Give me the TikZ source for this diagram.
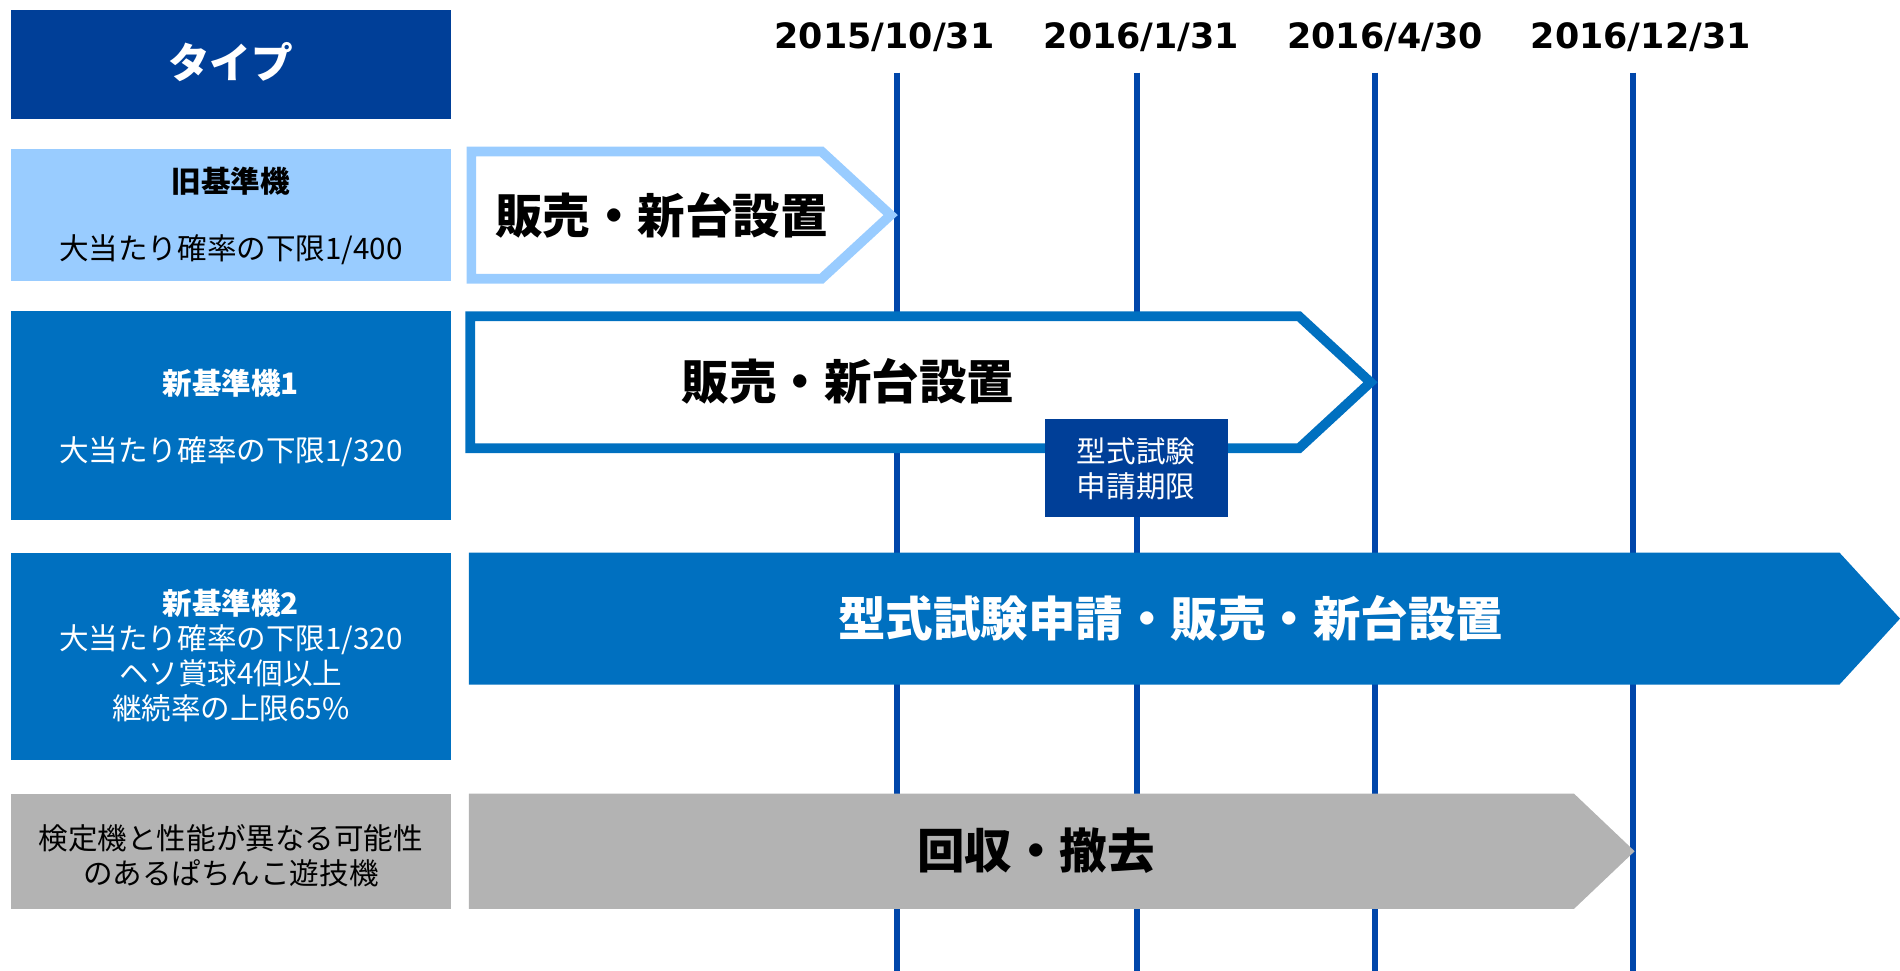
\documentclass[tikz,border=0pt]{standalone}
\usepackage{xcolor}
\usepackage{fontspec}
\usepackage{tikz}
\setmainfont{Noto Sans CJK JP}
\newfontfamily\datefont{DejaVu Sans}

\definecolor{hdrblue}{RGB}{0,63,152}
\definecolor{midblue}{RGB}{0,112,192}
\definecolor{paleblue}{RGB}{153,204,255}
\definecolor{rowgray}{RGB}{179,179,179}
\definecolor{lineblue}{RGB}{0,70,170}

\tikzset{
  typebox/.style={inner sep=0pt, align=center, font=\fontsize{12.2}{14.5}\selectfont},
  bigtext/.style={inner sep=0pt, font=\fontsize{19.6}{22}\selectfont\bfseries},
  datetext/.style={inner sep=0pt, font=\datefont\fontsize{14.4}{16}\selectfont\bfseries},
}

\begin{document}
\begin{tikzpicture}[x=0.5pt,y=0.5pt,yscale=-1,xscale=1]
\useasboundingbox (0,0) rectangle (1568,801);

%Straight Lines: time marks
\coordinate (m1top) at (740,60);   \coordinate (m1bot) at (740,801);
\coordinate (m2top) at (938,60);   \coordinate (m2bot) at (938,801);
\coordinate (m3top) at (1135,60);  \coordinate (m3bot) at (1135,801);
\coordinate (m4top) at (1348,60);  \coordinate (m4bot) at (1348,801);
\draw [lineblue, line width=2.5] (m1top) -- (m1bot) ;
\draw [lineblue, line width=2.5] (m2top) -- (m2bot) ;
\draw [lineblue, line width=2.5] (m3top) -- (m3bot) ;
\draw [lineblue, line width=2.5] (m4top) -- (m4bot) ;

% Text Node
\node [datetext] (d1) at (730,31) {2015/10/31};
% Text Node
\node [datetext] (d2) at (942,31) {2016/1/31};
% Text Node
\node [datetext] (d3) at (1143,31) {2016/4/30};
% Text Node
\node [datetext] (d4) at (1354,31) {2016/12/31};

%Shape: Rectangle
\fill [hdrblue] (9,8) rectangle (372,98) ;
\node [inner sep=0pt, text=white, font=\fontsize{17.2}{20}\selectfont\bfseries] (hdr) at (190.5,51) {タイプ};

%Shape: Rectangle
\fill [paleblue] (9,123) rectangle (372,232) ;
\node [typebox] (old) at (190.5,178) {\bfseries 旧基準機\\[13pt]大当たり確率の下限1/400};

%Shape: Rectangle
\fill [midblue] (9,257) rectangle (372,429) ;
\node [typebox, text=white] (new1) at (190.5,345) {\bfseries 新基準機1\\[13pt]大当たり確率の下限1/320};

%Shape: Rectangle
\fill [midblue] (9,456) rectangle (372,627) ;
\node [typebox, text=white] (new2) at (190.5,541) {\bfseries 新基準機2\\大当たり確率の下限1/320\\ヘソ賞球4個以上\\継続率の上限65\%};

%Shape: Rectangle
\fill [rowgray] (9,655) rectangle (372,750) ;
\node [typebox] (kentei) at (190.5,706) {検定機と性能が異なる可能性\\のあるぱちんこ遊技機};

%Shape: Pentagon arrow
\draw [paleblue, fill=white, line width=4] (389,125) -- (678,125) -- (735,177.5) -- (678,230) -- (389,230) -- cycle ;
\node [bigtext] (sale1) at (546,178) {販売・新台設置};

%Shape: Pentagon arrow
\draw [midblue, fill=white, line width=4] (388,261) -- (1072,261) -- (1131,315.5) -- (1072,370) -- (388,370) -- cycle ;
\node [bigtext] (sale2) at (700,315) {販売・新台設置};

%Shape: Rectangle
\fill [hdrblue] (862,346) rectangle (1013,427) ;
\node [typebox, text=white] (limit) at (937.5,387) {型式試験\\申請期限};

%Shape: Pentagon arrow
\fill [midblue] (387,456) -- (1518,456) -- (1568,510.5) -- (1518,565) -- (387,565) -- cycle ;
\node [bigtext, text=white] (sale3) at (966,510) {型式試験申請・販売・新台設置};

%Shape: Pentagon arrow
\fill [rowgray] (387,655) -- (1299,655) -- (1349,702.5) -- (1299,750) -- (387,750) -- cycle ;
\node [bigtext] (recall) at (855,702) {回収・撤去};

\end{tikzpicture}
\end{document}
